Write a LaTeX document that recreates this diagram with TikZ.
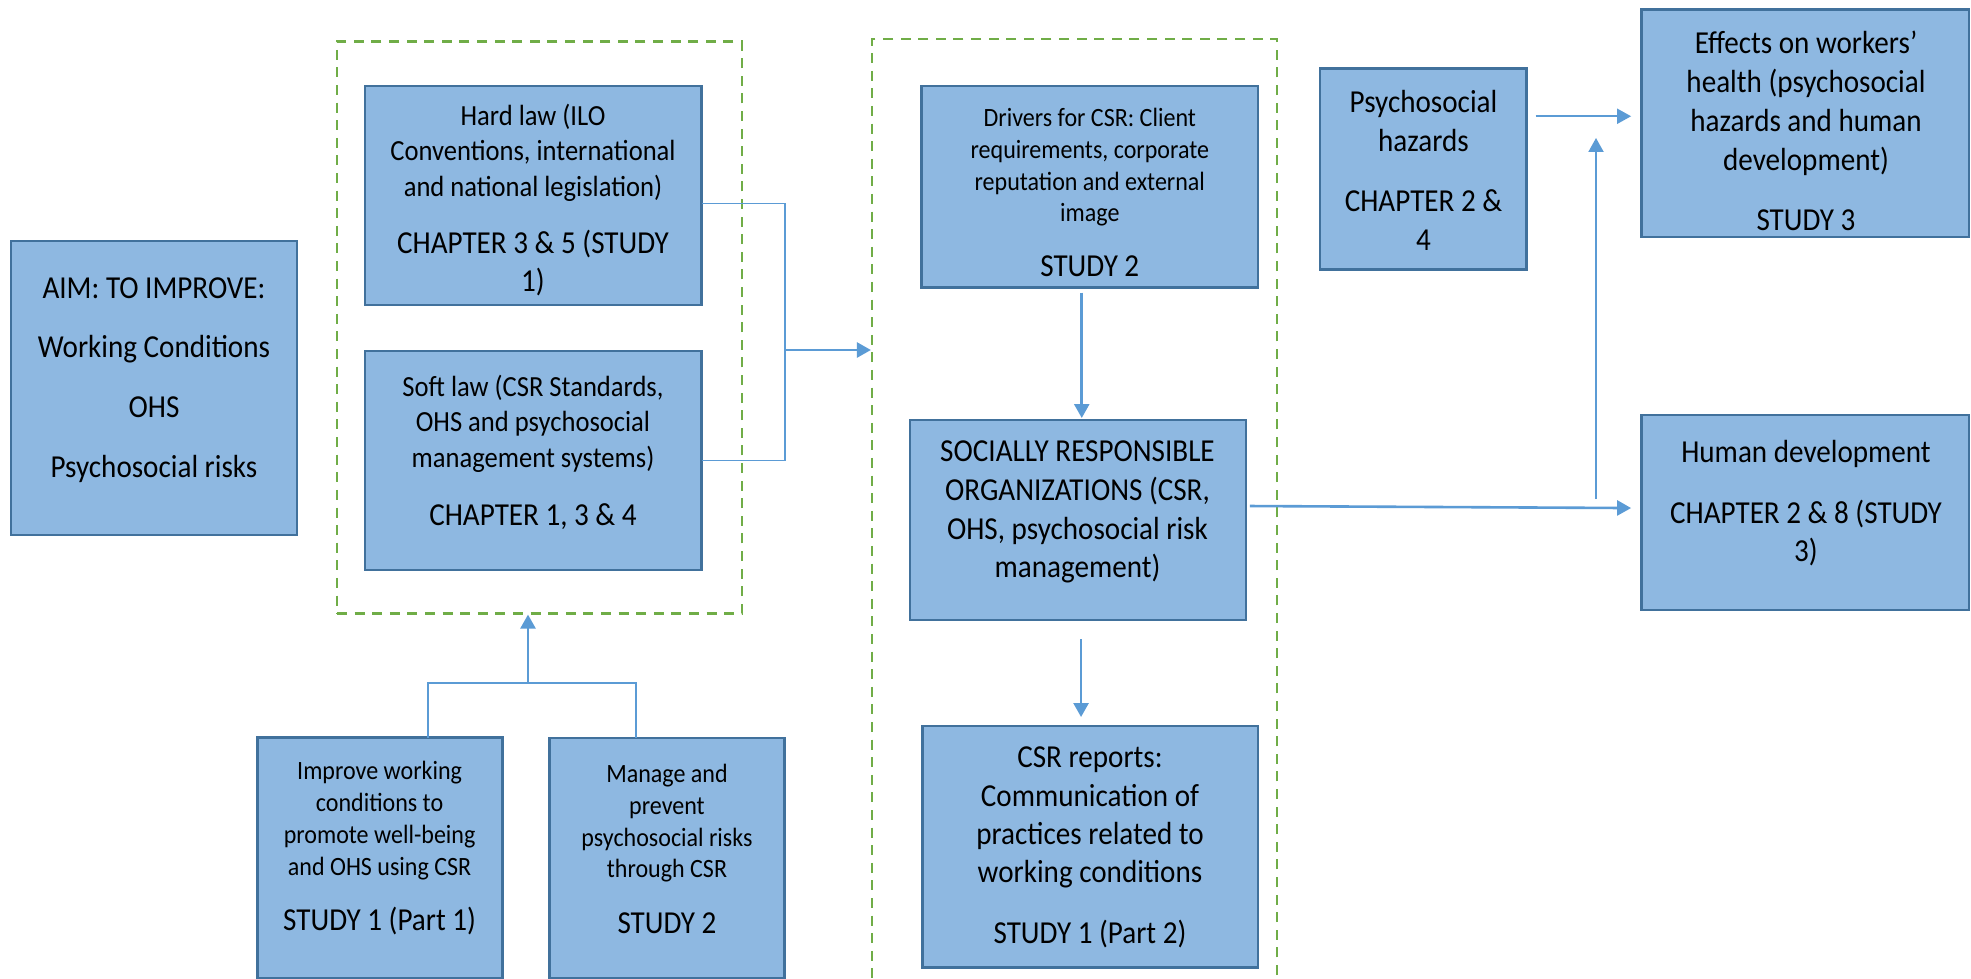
\documentclass[tikz,border=0pt]{standalone}
\usepackage{fontspec}
\setmainfont{Carlito}[FakeStretch=0.91]
\usetikzlibrary{arrows.meta,fit,calc}

\definecolor{boxfill}{HTML}{8EB8E1}
\definecolor{boxedge}{HTML}{41719C}
\definecolor{link}{HTML}{5B9BD5}
\definecolor{groupedge}{HTML}{70AD47}

% type sizes used in the boxes (narrow, tall face)
\newcommand\szbody{\fontsize{14.6}{17.75}\selectfont}
\newcommand\szbig{\fontsize{16}{19.5}\selectfont}
\newcommand\szsmall{\fontsize{13.2}{15.85}\selectfont}

\tikzset{
  box/.style={draw=boxedge, fill=boxfill, line width=1.3pt, inner sep=0pt, outer sep=0pt},
  group/.style={draw=groupedge, line width=1.1pt, dash pattern=on 5pt off 3.8pt, inner sep=0pt},
  txt/.style={align=center, inner sep=0pt, text=black},
  link/.style={draw=link, line width=0.9pt},
  arr/.style={draw=link, line width=1.3pt, -{Triangle[length=7pt,width=7.5pt]}},
}

\begin{document}
\begin{tikzpicture}[x=0.5pt, y=-0.5pt]
\useasboundingbox (0,0) rectangle (1971,979);
\fill[white] (0,0) rectangle (1971,979);
\clip (0,0) rectangle (1971,979);

% dashed groupings
\node[group, fit={(337,41.5) (742,613.5)}] (law) {};
\node[group, fit={(872,39) (1277,1010)}] (org) {};

% boxes
\node[box, fit={(11,241) (297,535)}] (aim) {};
\node[box, fit={(365,86) (701.5,305)}] (hard) {};
\node[box, fit={(365,351) (701.5,570)}] (soft) {};
\node[box, fit={(921.7,86) (1257.8,287.5)}] (drivers) {};
\node[box, fit={(909.8,420) (1245.9,620)}] (sro) {};
\node[box, fit={(922.6,726) (1257.9,967.7)}] (reports) {};
\node[box, fit={(1319.8,68.8) (1526.7,269.7)}] (psych) {};
\node[box, fit={(1641.7,9.5) (1969,237)}] (effects) {};
\node[box, fit={(1641.7,415) (1969,610)}] (humdev) {};
\node[box, fit={(257.5,737.7) (502.4,978)}] (improve) {};
\node[box, fit={(549.4,738) (784.4,978)}] (manage) {};

% box texts
\node[txt, font=\fontsize{16}{29.85}\selectfont] (aim-t) at (154,380)
  {AIM: TO IMPROVE:\\Working Conditions\\OHS\\Psychosocial risks};
\node[txt, font=\szbody] (hard-t) at (533,200)
  {Hard law (ILO\\Conventions, international\\and national legislation)\\[10.95pt]
   {\szbig CHAPTER 3 \& 5 (STUDY}\\[1.4pt]{\szbig 1)}};
\node[txt, font=\szbody] (soft-t) at (533,452.4)
  {Soft law (CSR Standards,\\OHS and psychosocial\\management systems)\\[11.5pt]
   {\szbig CHAPTER 1, 3 \& 4}};
\node[txt, font=\szsmall] (drivers-t) at (1089.8,192.4)
  {Drivers for CSR: Client\\requirements, corporate\\reputation and external\\image\\[11.45pt]
   {\szbig STUDY 2}};
\node[txt, font=\fontsize{16}{19.45}\selectfont] (sro-t) at (1077.5,512)
  {SOCIALLY RESPONSIBLE\\ORGANIZATIONS (CSR,\\OHS, psychosocial risk\\management)};
\node[txt, font=\fontsize{16}{19.15}\selectfont] (reports-t) at (1090,847.5)
  {CSR reports:\\Communication of\\practices related to\\working conditions\\[11.15pt]STUDY 1 (Part 2)};
\node[txt, font=\fontsize{16}{19.35}\selectfont] (psych-t) at (1423.5,170.5)
  {Psychosocial\\hazards\\[10.6pt]CHAPTER 2 \&\\4};
\node[txt, font=\fontsize{16}{19.45}\selectfont] (effects-t) at (1806,131)
  {Effects on workers’\\health (psychosocial\\hazards and human\\development)\\[10.6pt]STUDY 3};
\node[txt, font=\fontsize{16}{18.8}\selectfont] (humdev-t) at (1806,503.2)
  {Human development\\[11.8pt]CHAPTER 2 \& 8 (STUDY\\3)};
\node[txt, font=\szsmall] (improve-t) at (379.6,848.4)
  {Improve working\\conditions to\\promote well-being\\and OHS using CSR\\[12pt]
   {\szbig STUDY 1 (Part 1)}};
\node[txt, font=\szsmall] (manage-t) at (667,849)
  {Manage and\\prevent\\psychosocial risks\\through CSR\\[12pt]
   {\szbig STUDY 2}};

% connector junctions
\coordinate (lawjoin) at (785,350);
\coordinate (studyjoin) at (528,683);
\coordinate (upfoot) at (1596,499);
\coordinate (uptip) at (1596,138);

% hard and soft law joined into the organisation group
\draw[link] ([yshift=-4pt]hard.east) -| (lawjoin) |- (soft.east);
\draw[arr] (lawjoin) -- (lawjoin -| org.west);

% the two studies feeding the law group
\draw[link] ([xshift=24.2pt]improve.north) |- (studyjoin) -| ([xshift=-15.3pt]manage.north);
\draw[arr] (studyjoin) -- (studyjoin |- law.south);

% flow inside the organisation group
\draw[arr, shorten <=2.5pt, shorten >=1pt] ([xshift=-4pt]drivers.south) -- ([xshift=-4pt]drivers.south |- sro.north);
\draw[arr, shorten <=9.5pt, shorten >=4.5pt] ([xshift=1.6pt]sro.south) -- ([xshift=1.6pt]sro.south |- reports.north);

% outcomes
\draw[arr, shorten <=2pt, shorten >=5.3pt] ([yshift=7pt]sro.east) -- ([yshift=2.2pt]humdev.west);
\draw[arr, line width=1pt, shorten <=4.5pt, shorten >=5.3pt] ([yshift=26.5pt]psych.east) -- ([yshift=26.5pt]psych.east -| effects.west);
\draw[arr, line width=1pt] (upfoot) -- (uptip);
\end{tikzpicture}
\end{document}
